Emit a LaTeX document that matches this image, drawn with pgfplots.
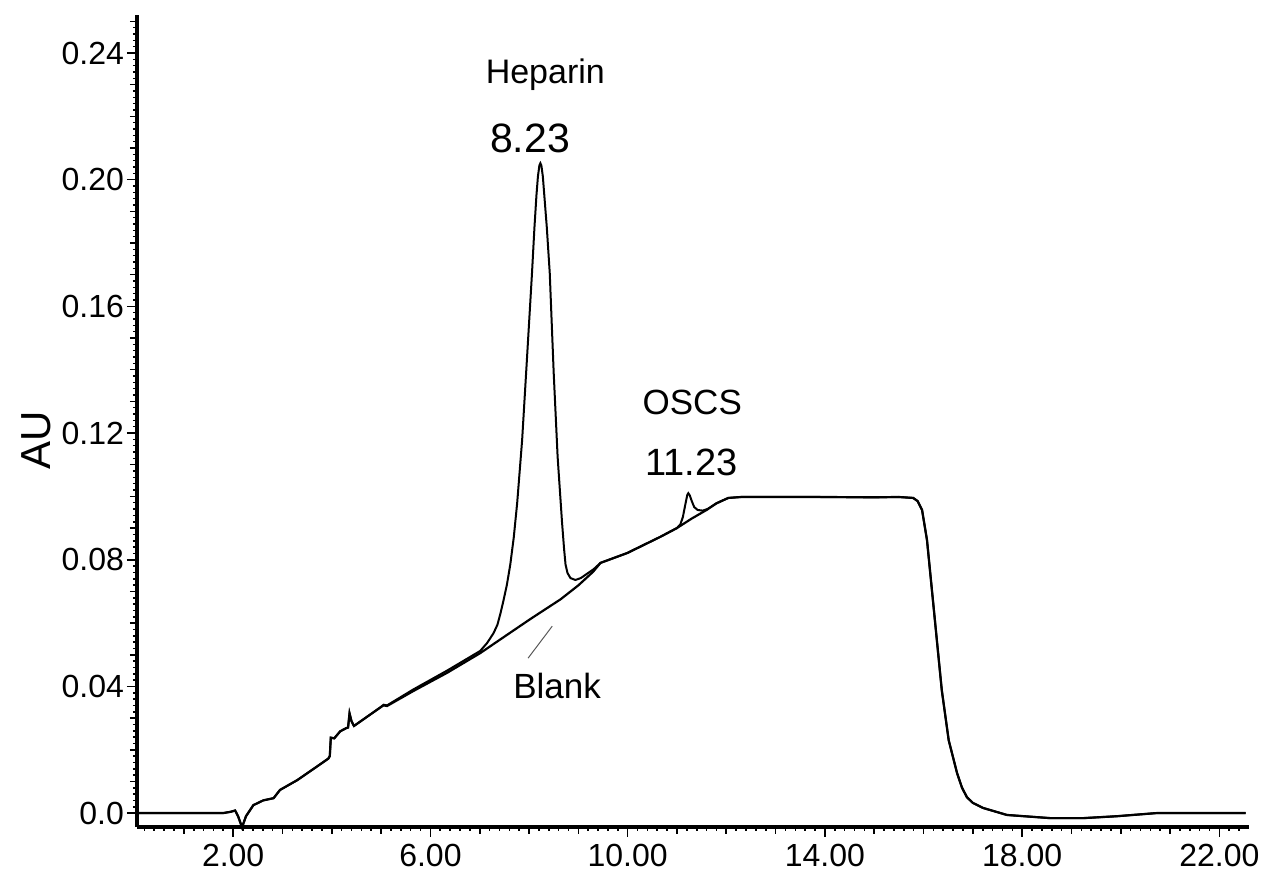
\documentclass[border=0pt]{standalone}
\usepackage{pgfplots}
\pgfplotsset{compat=1.18}
\usepackage{fontspec}
\setmainfont{Liberation Sans}

% sample run (heparin spiked with OSCS)
\pgfplotstableread{
x y
0.05 0.0
1.80 0.0
1.95 0.0004
2.04 0.0008
2.10 -0.001
2.18 -0.0045
2.26 -0.001
2.41 0.0025
2.61 0.0040
2.82 0.0047
2.95 0.0073
3.30 0.0104
3.70 0.0147
3.93 0.0172
3.96 0.0180
3.98 0.0238
4.05 0.0236
4.17 0.0258
4.29 0.0268
4.33 0.0270
4.36 0.0315
4.40 0.0290
4.45 0.0275
4.98 0.0333
5.05 0.0342
5.12 0.0340
5.65 0.0390
6.34 0.0450
7.01 0.0512
7.15 0.0537
7.28 0.0568
7.36 0.0595
7.42 0.0630
7.48 0.0670
7.55 0.0720
7.62 0.0785
7.69 0.0870
7.76 0.0980
7.86 0.1178
7.96 0.1440
8.06 0.1705
8.11 0.1850
8.15 0.1950
8.18 0.2010
8.21 0.2045
8.23 0.2052
8.25 0.2045
8.28 0.2010
8.31 0.1950
8.36 0.1850
8.42 0.1705
8.50 0.1390
8.58 0.1124
8.67 0.0916
8.71 0.0835
8.74 0.0785
8.78 0.0758
8.84 0.0742
8.94 0.0736
9.05 0.0742
9.17 0.0755
9.31 0.0770
9.45 0.0790
9.99 0.0821
10.66 0.0872
11.00 0.0900
11.07 0.0912
11.12 0.0935
11.17 0.0975
11.21 0.1005
11.23 0.1010
11.26 0.1003
11.30 0.0985
11.35 0.0966
11.42 0.0957
11.52 0.0955
11.62 0.0960
11.80 0.0978
12.04 0.0995
12.30 0.0998
13.90 0.0998
15.00 0.0997
15.50 0.0998
15.79 0.0995
15.88 0.0985
15.97 0.0957
16.07 0.0862
16.17 0.0704
16.27 0.0546
16.37 0.0388
16.51 0.0230
16.68 0.0126
16.78 0.0080
16.88 0.0050
17.00 0.0032
17.21 0.0016
17.69 -0.0006
18.57 -0.0016
19.24 -0.0016
19.92 -0.0010
20.73 0.0
22.53 0.0
}\sample

% blank run
\pgfplotstableread{
x y
0.05 0.0
1.80 0.0
1.95 0.0004
2.04 0.0008
2.10 -0.001
2.18 -0.0045
2.26 -0.001
2.41 0.0025
2.61 0.0040
2.82 0.0047
2.95 0.0073
3.30 0.0104
3.70 0.0147
3.93 0.0172
3.96 0.0180
3.98 0.0238
4.05 0.0236
4.17 0.0258
4.29 0.0268
4.33 0.0270
4.36 0.0315
4.40 0.0290
4.45 0.0275
4.98 0.0333
5.05 0.0340
5.12 0.0338
5.65 0.0385
6.34 0.0443
7.01 0.0505
7.50 0.0557
8.03 0.0613
8.64 0.0675
9.00 0.0719
9.30 0.0762
9.45 0.0790
9.99 0.0821
10.66 0.0872
11.00 0.0900
11.30 0.0930
11.60 0.0957
11.80 0.0978
12.04 0.0995
12.30 0.0998
13.90 0.0998
15.00 0.0997
15.50 0.0998
15.79 0.0995
15.88 0.0985
15.97 0.0957
16.07 0.0862
16.17 0.0704
16.27 0.0546
16.37 0.0388
16.51 0.0230
16.68 0.0126
16.78 0.0080
16.88 0.0050
17.00 0.0032
17.21 0.0016
17.69 -0.0006
18.57 -0.0016
19.24 -0.0016
19.92 -0.0010
20.73 0.0
22.53 0.0
}\blank

\begin{document}
\begin{tikzpicture}
\begin{axis}[
    scale only axis,
    width=556pt, height=406pt,
    xmin=0.05, xmax=22.6,
    ymin=-0.0044, ymax=0.252,
    axis lines=left,
    axis line style={-, line width=1.6pt},
    tick align=outside,
    every tick/.style={black, line width=0.8pt},
    major tick length=5pt,
    minor tick length=2pt,
    xtick={2,6,10,14,18,22},
    xticklabels={2.00,6.00,10.00,14.00,18.00,22.00},
    minor xtick={0.2,0.4,...,22.4},
    extra x ticks={1,3,4,5,7,8,9,11,12,13,15,16,17,19,20,21},
    extra x tick labels={},
    extra x tick style={major tick length=3.5pt},
    ytick={0,0.04,0.08,0.12,0.16,0.20,0.24},
    yticklabels={0.0,0.04,0.08,0.12,0.16,0.20,0.24},
    minor ytick={0,0.002,...,0.25},
    extra y ticks={0.01,0.02,0.03,0.05,0.06,0.07,0.09,0.10,0.11,0.13,0.14,0.15,0.17,0.18,0.19,0.21,0.22,0.23,0.25},
    extra y tick labels={},
    extra y tick style={major tick length=3.5pt},
    tick label style={font=\fontsize{16}{19}\selectfont},
    yticklabel style={xshift=2pt},
    ylabel={AU},
    every axis y label/.style={at={(axis description cs:-0.0907,0.4766)}, rotate=90, anchor=center, font=\fontsize{21}{24}\selectfont},
    clip=false,
]
    % Blank
    \addplot[black, line width=1.1pt] table {\blank};
    % Sample
    \addplot[black, line width=1.0pt] table {\sample};

    \node[anchor=base, font=\fontsize{17}{20}\selectfont] at (axis cs:8.33,0.2305) {Heparin};
    \node[anchor=base, font=\fontsize{20.5}{24}\selectfont] at (axis cs:8.02,0.2087) {8.23};
    \node[anchor=base, font=\fontsize{17.5}{20}\selectfont] at (axis cs:11.31,0.1257) {OSCS};
    \node[anchor=base, font=\fontsize{19}{22}\selectfont] at (axis cs:11.29,0.1067) {11.23};
    \node[anchor=base, font=\fontsize{17.5}{20}\selectfont] at (axis cs:8.57,0.0363) {Blank};
    \draw[gray!70!black, line width=0.5pt] (axis cs:7.98,0.0489) -- (axis cs:8.47,0.059);
\end{axis}
\pgfresetboundingbox
\path (current axis.south west) ++(-68.5pt,-25pt) rectangle ++(635pt,438.5pt);
\end{tikzpicture}
\end{document}
